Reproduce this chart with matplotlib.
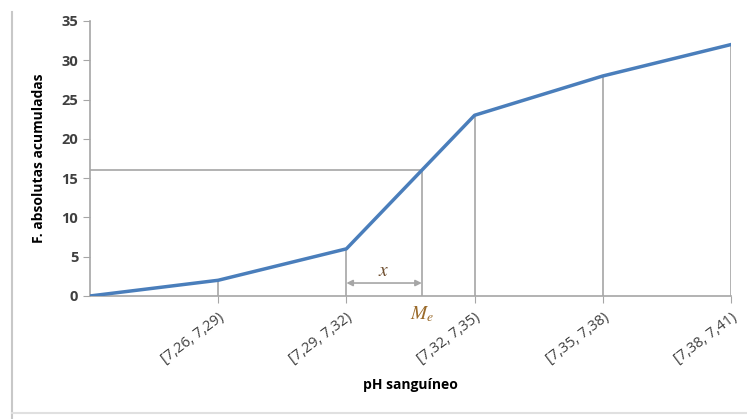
import matplotlib.pyplot as plt
from matplotlib.lines import Line2D

# Data: cumulative absolute frequencies per pH class
classes = ['', '[7,26, 7,29)', '[7,29, 7,32)', '[7,32, 7,35)', '[7,35, 7,38)', '[7,38, 7,41)']
cum_freq = [0, 2, 6, 23, 28, 32]
median_freq = 16
median_class = 2  # index of class where the median interval starts

plt.rcParams['font.family'] = ['Open Sans', 'DejaVu Sans']
plt.rcParams['mathtext.fontset'] = 'stix'

fig = plt.figure(figsize=(7.47, 4.19), dpi=100)
ax = fig.add_axes([0.1205, 0.2936, 0.858, 0.6563])

xs = list(range(len(classes)))
grey = '#a6a6a6'

# vertical guide lines from each point to the axis
for x, y in zip(xs[1:], cum_freq[1:]):
    ax.plot([x, x], [0, y], color=grey, lw=1.2, zorder=1)

# median position by linear interpolation
y0, y1 = cum_freq[median_class], cum_freq[median_class + 1]
me_x = median_class + (median_freq - y0) / (y1 - y0)
ax.plot([0, me_x], [median_freq, median_freq], color=grey, lw=1.2, zorder=1)
ax.plot([me_x, me_x], [0, median_freq], color=grey, lw=1.2, zorder=1)

ax.plot(xs, cum_freq, color='#4a7ebb', lw=2.5, zorder=3)

# arrow showing x
ax.annotate('', xy=(median_class, 1.65), xytext=(me_x, 1.65),
            arrowprops=dict(arrowstyle='<|-|>', color=grey, lw=1.2, mutation_scale=9,
                            shrinkA=0, shrinkB=0))
ax.text((median_class + me_x) / 2, 3.2, r'$x$', ha='center', va='center',
        fontsize=14, color='#6b4a2a')
ax.text(me_x, -1.0, r'$M_e$', ha='center', va='top', fontsize=14, color='#9a6a2a')

ax.set_xlim(0, len(classes) - 1)
ax.set_ylim(0, 35)
ax.set_yticks(range(0, 36, 5))
ax.set_xticks(xs[1:])
ax.set_xticklabels(classes[1:], rotation=37, ha='right', va='top',
                   rotation_mode='anchor', fontsize=10.5, color='#404040')
ax.tick_params(axis='x', length=5, color=grey, pad=5)
ax.tick_params(axis='y', length=5, color=grey, labelsize=10.5, labelcolor='#404040')
for lab in ax.get_yticklabels():
    lab.set_fontweight('bold')

for s in ['top', 'right']:
    ax.spines[s].set_visible(False)
for s in ['left', 'bottom']:
    ax.spines[s].set_color(grey)
    ax.spines[s].set_linewidth(1.2)

ax.set_ylabel('F. absolutas acumuladas', fontsize=10, fontweight='bold', labelpad=11)
fig.text(0.549, 0.08, 'pH sanguíneo', ha='center', va='center',
         fontsize=10, fontweight='bold')

# screenshot frame lines
fig.add_artist(Line2D([12 / 747, 12 / 747], [0, 1 - 12 / 419], color='#c8c8c8', lw=1.5))
fig.add_artist(Line2D([12 / 747, 1], [6 / 419, 6 / 419], color='#e0e0e0', lw=1.5))

fig.savefig('out.png', dpi=100)
